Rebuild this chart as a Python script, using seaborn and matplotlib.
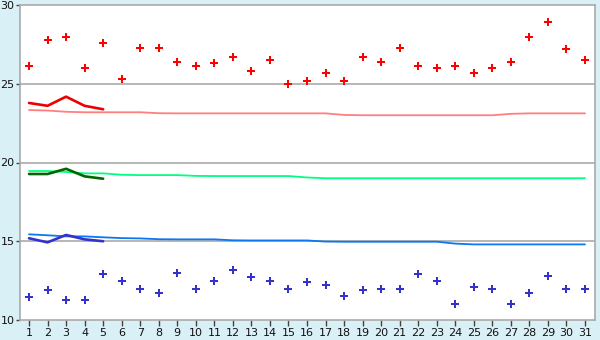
import numpy as np
import pandas as pd
import matplotlib
matplotlib.use("Agg")
import matplotlib.pyplot as plt
import seaborn as sns

days = list(range(1, 32))

max_temp = [26.1, 27.8, 28.0, 26.0, 27.6, 25.3, 27.3, 27.3, 26.4, 26.1,
            26.3, 26.7, 25.8, 26.5, 25.0, 25.2, 25.7, 25.2, 26.7, 26.4,
            27.3, 26.1, 26.0, 26.1, 25.7, 26.0, 26.4, 28.0, 28.9, 27.2, 26.5]
min_temp = [11.45, 11.9, 11.3, 11.3, 12.9, 12.5, 12.0, 11.7, 13.0, 12.0,
            12.5, 13.2, 12.7, 12.5, 12.0, 12.4, 12.2, 11.5, 11.9, 12.0,
            12.0, 12.9, 12.5, 11.0, 12.1, 12.0, 11.0, 11.7, 12.8, 12.0, 12.0]

normal_max = [23.33, 23.3, 23.22, 23.19, 23.19, 23.19, 23.19, 23.13, 23.12, 23.12,
              23.12, 23.12, 23.12, 23.12, 23.12, 23.12, 23.12, 23.02, 23.0, 23.0,
              23.0, 23.0, 23.0, 23.0, 23.0, 23.0, 23.09, 23.12, 23.12, 23.12, 23.12]
normal_mean = [19.46, 19.46, 19.4, 19.31, 19.31, 19.22, 19.2, 19.2, 19.2, 19.15,
               19.14, 19.14, 19.14, 19.14, 19.14, 19.05, 19.0, 19.0, 19.0, 19.0,
               19.0, 19.0, 19.0, 19.0, 19.0, 19.0, 19.0, 19.0, 19.0, 19.0, 19.0]
normal_min = [15.44, 15.38, 15.31, 15.31, 15.25, 15.2, 15.18, 15.13, 15.12, 15.12,
              15.12, 15.06, 15.05, 15.05, 15.05, 15.05, 14.98, 14.97, 14.97, 14.97,
              14.97, 14.97, 14.97, 14.85, 14.8, 14.8, 14.8, 14.8, 14.8, 14.8, 14.8]

run_days = [1, 2, 3, 4, 5]
run_max = [23.78, 23.6, 24.18, 23.6, 23.38]
run_mean = [19.27, 19.27, 19.6, 19.12, 18.97]
run_min = [15.19, 14.93, 15.4, 15.12, 15.0]

y_ticks = [10, 15, 20, 25, 30]

sns.set_theme(style="white")
plt.rcParams['font.family'] = ['DejaVu Sans']

bg = "#daf0f7"
fig = plt.figure(figsize=(6.0, 3.4), dpi=100, facecolor=bg)
ax = fig.add_axes([20/600, 1 - 320/340, 575/600, 315/340])
ax.set_facecolor("white")

df = pd.DataFrame({"day": days, "max": max_temp, "min": min_temp,
                   "nmax": normal_max, "nmean": normal_mean, "nmin": normal_min})
dr = pd.DataFrame({"day": run_days, "rmax": run_max, "rmean": run_mean, "rmin": run_min})

for yv in [15, 20, 25]:
    ax.axhline(yv, color="#aaaaaa", lw=1.2, zorder=0)

sns.lineplot(data=df, x="day", y="nmax", ax=ax, color="#ff7f7f", lw=1.3)
sns.lineplot(data=df, x="day", y="nmean", ax=ax, color="#00ff80", lw=1.3)
sns.lineplot(data=df, x="day", y="nmin", ax=ax, color="#0a78f0", lw=1.3)

sns.lineplot(data=dr, x="day", y="rmax", ax=ax, color="#ee0000", lw=1.9)
sns.lineplot(data=dr, x="day", y="rmean", ax=ax, color="#006600", lw=1.9)
sns.lineplot(data=dr, x="day", y="rmin", ax=ax, color="#3333cc", lw=1.9)

sns.scatterplot(data=df, x="day", y="max", ax=ax, color="#ff0000", marker="P",
                s=30, linewidth=0)
sns.scatterplot(data=df, x="day", y="min", ax=ax, color="#3333cc", marker="P",
                s=30, linewidth=0)

ax.set_xlim(0.514, 31.54)
ax.set_ylim(10, 30)
ax.set_xticks(days)
ax.set_xticklabels([str(d) for d in days])
ax.set_yticks(y_ticks)
ax.set_yticklabels([str(t) for t in y_ticks])
ax.set_xlabel("")
ax.set_ylabel("")
for s in ax.spines.values():
    s.set_color("#aaaaaa")
    s.set_linewidth(1.2)
ax.tick_params(axis="x", which="both", length=4, width=1, color="#444444",
               labelsize=8, labelcolor="#111111", pad=2, direction="out",
               bottom=True)
ax.tick_params(axis="y", which="both", length=3, width=1, color="#444444",
               labelsize=8, labelcolor="#111111", pad=1, direction="out",
               left=True)

fig.savefig("out.png", dpi=100, facecolor=bg)
